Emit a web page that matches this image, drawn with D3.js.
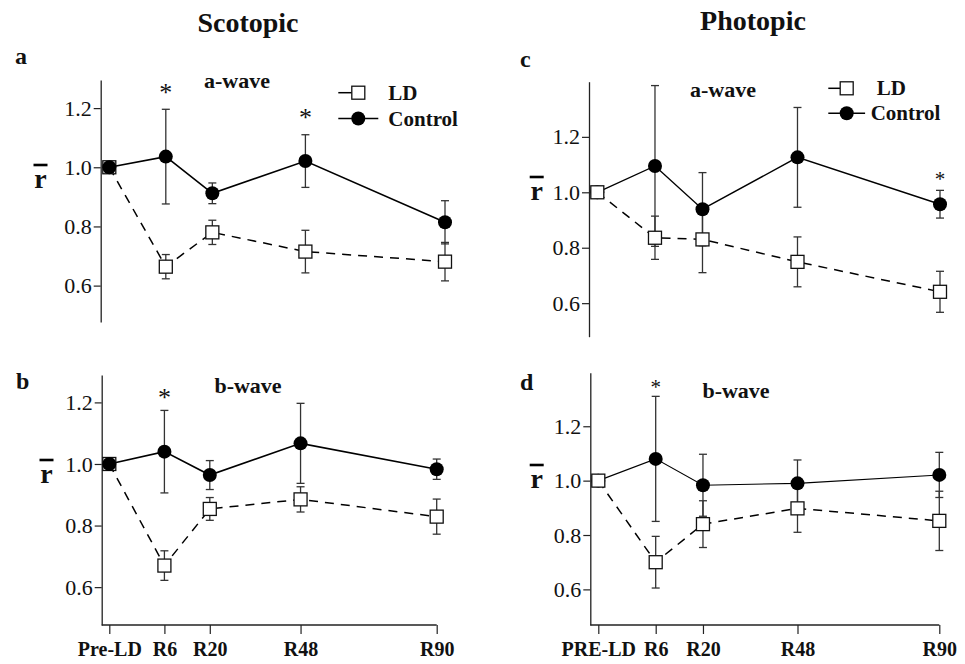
<!DOCTYPE html>
<html>
<head>
<meta charset="utf-8">
<script src="https://cdn.jsdelivr.net/npm/d3@7"></script>
<style>
  html, body { margin: 0; padding: 0; background: #fff; }
  svg { display: block; }
  text { font-family: "Liberation Serif", "Times New Roman", serif; fill: #111; }
</style>
</head>
<body>
<svg id="chart" width="965" height="664"></svg>
<script>
// ---------- DATA ----------
const timePoints = [-11, 6, 20, 48, 90];
const timeLabelsScotopic = ["Pre-LD", "R6", "R20", "R48", "R90"];
const timeLabelsPhotopic = ["PRE-LD", "R6", "R20", "R48", "R90"];
const yTickValues = [0.6, 0.8, 1.0, 1.2];
const seriesNames = ["LD", "Control"];

const scotA_control    = [1.0, 1.036, 0.912, 1.021, 0.814];
const scotA_controlErr = [0, 0.160, 0.035, 0.089, 0.073];
const scotA_LD         = [1.0, 0.664, 0.780, 0.715, 0.681];
const scotA_LDErr      = [0, 0.041, 0.041, 0.072, 0.065];
const scotA_sig        = [[6, 1.267], [48, 1.182]];

const scotB_control    = [1.0, 1.040, 0.964, 1.067, 0.983];
const scotB_controlErr = [0, 0.134, 0.047, 0.130, 0.033];
const scotB_LD         = [1.0, 0.670, 0.854, 0.885, 0.829];
const scotB_LDErr      = [0, 0.048, 0.037, 0.041, 0.057];
const scotB_sig        = [[6, 1.231]];

const photC_control    = [1.0, 1.095, 0.939, 1.126, 0.957];
const photC_controlErr = [0, 0.290, 0.132, 0.180, 0.050];
const photC_LD         = [1.0, 0.836, 0.830, 0.749, 0.641];
const photC_LDErr      = [0, 0.078, 0.120, 0.090, 0.074];
const photC_sig        = [[90, 1.059]];

const photD_control    = [1.0, 1.080, 0.983, 0.990, 1.021];
const photD_controlErr = [0, 0.230, 0.114, 0.086, 0.083];
const photD_LD         = [1.0, 0.700, 0.840, 0.898, 0.852];
const photD_LDErr      = [0, 0.095, 0.086, 0.088, 0.109];
const photD_sig        = [[6, 1.358]];

// ---------- LAYOUT ----------
const svg = d3.select("#chart");
const FONT = "Liberation Serif, Times New Roman, serif";

const panels = [
  { letter: "a", wave: "a-wave", control: scotA_control, controlErr: scotA_controlErr, ld: scotA_LD, ldErr: scotA_LDErr, sig: scotA_sig,
    axisX: 100.7, x0: 109.3, x1: 445, top: 80, bottom: 322, yDomain: [0.477, 1.295],
    xAxis: false, labels: timeLabelsScotopic, circleOnTop: true,
    letterPos: [15, 64], wavePos: [237, 88.3], rPos: [40.5, 188.3, 165],
    legend: { x: 338.3, mx: 358.3, tx: 388.3, y1: 92.7, y2: 118.5, tx2: 388.3 },
    sigSize: 26, lineW: 1.6 },
  { letter: "b", wave: "b-wave", control: scotB_control, controlErr: scotB_controlErr, ld: scotB_LD, ldErr: scotB_LDErr, sig: scotB_sig,
    axisX: 101.7, x0: 109.3, x1: 436.7, top: 375, bottom: 625, yDomain: [0.477, 1.289],
    xAxis: true, labels: timeLabelsScotopic, circleOnTop: true,
    letterPos: [16, 389.3], wavePos: [248, 393.3], rPos: [46.5, 483, 460],
    legend: null, sigSize: 26, lineW: 1.6 },
  { letter: "c", wave: "a-wave", control: photC_control, controlErr: photC_controlErr, ld: photC_LD, ldErr: photC_LDErr, sig: photC_sig,
    axisX: 589, x0: 597.3, x1: 940, top: 81.7, bottom: 336.7, yDomain: [0.479, 1.399],
    xAxis: false, labels: timeLabelsPhotopic, circleOnTop: false,
    letterPos: [520, 66.7], wavePos: [723, 96.7], rPos: [536.7, 200, 177],
    legend: { x: 828.3, mx: 846.7, tx: 876.7, y1: 88.3, y2: 113.3, tx2: 870.7 },
    sigSize: 21, lineW: 1.4 },
  { letter: "d", wave: "b-wave", control: photD_control, controlErr: photD_controlErr, ld: photD_LD, ldErr: photD_LDErr, sig: photD_sig,
    axisX: 590.3, x0: 598.3, x1: 939.3, top: 372.7, bottom: 625, yDomain: [0.469, 1.397],
    xAxis: true, labels: timeLabelsPhotopic, circleOnTop: false,
    letterPos: [520, 390], wavePos: [736, 398.3], rPos: [536.7, 488, 465],
    legend: null, sigSize: 21, lineW: 1.1 }
];

// Titles
svg.append("text").attr("x", 248).attr("y", 32).attr("text-anchor", "middle")
  .attr("font-family", FONT).attr("font-size", 28).attr("font-weight", "bold").text("Scotopic");
svg.append("text").attr("x", 753).attr("y", 29.5).attr("text-anchor", "middle")
  .attr("font-family", FONT).attr("font-size", 28).attr("font-weight", "bold").text("Photopic");

const SQ = 13, CR = 7;

panels.forEach(p => {
  const g = svg.append("g").attr("font-family", FONT);
  const x = d3.scaleLinear().domain([timePoints[0], timePoints[timePoints.length - 1]]).range([p.x0, p.x1]);
  const y = d3.scaleLinear().domain(p.yDomain).range([p.bottom, p.top]);

  // Y axis
  const yAxis = d3.axisLeft(y).tickValues(yTickValues).tickFormat(d3.format(".1f"))
    .tickSize(7).tickSizeOuter(0).tickPadding(2);
  const ya = g.append("g").attr("transform", `translate(${p.axisX},0)`).call(yAxis)
    .attr("font-family", FONT).attr("font-size", 22);
  ya.select(".domain").attr("stroke", "#222").attr("stroke-width", 1.3);
  ya.selectAll(".tick line").attr("stroke", "#222").attr("stroke-width", 1.2);
  ya.selectAll(".tick text").attr("font-family", FONT).attr("font-size", 22).attr("fill", "#111");

  // X axis
  if (p.xAxis) {
    const xAxis = d3.axisBottom(x).tickValues(timePoints)
      .tickFormat((d, i) => p.labels[i]).tickSize(9).tickSizeOuter(0).tickPadding(8);
    const xa = g.append("g").attr("transform", `translate(0,${p.bottom})`).call(xAxis)
      .attr("font-family", FONT).attr("font-size", 20).attr("font-weight", "bold");
    xa.select(".domain").remove();
    xa.append("line").attr("x1", p.axisX).attr("x2", x(timePoints[timePoints.length - 1]))
      .attr("y1", 0).attr("y2", 0).attr("stroke", "#222").attr("stroke-width", 1.3);
    xa.selectAll(".tick line").attr("stroke", "#222").attr("stroke-width", 1.2);
    xa.selectAll(".tick text").attr("font-family", FONT).attr("font-size", 20)
      .attr("font-weight", "bold").attr("fill", "#111");
  }

  const ctrl = timePoints.map((t, i) => ({ t, v: p.control[i], e: p.controlErr[i] }));
  const ld = timePoints.map((t, i) => ({ t, v: p.ld[i], e: p.ldErr[i] }));

  // Error bars
  const drawErr = (data) => {
    const eg = g.append("g").attr("stroke", "#333").attr("stroke-width", 1.3).attr("fill", "none");
    data.filter(d => d.e > 0).forEach(d => {
      const cx = x(d.t), yt = y(d.v + d.e), yb = y(d.v - d.e);
      eg.append("line").attr("x1", cx).attr("x2", cx).attr("y1", yt).attr("y2", yb);
      eg.append("line").attr("x1", cx - 4).attr("x2", cx + 4).attr("y1", yt).attr("y2", yt);
      eg.append("line").attr("x1", cx - 4).attr("x2", cx + 4).attr("y1", yb).attr("y2", yb);
    });
  };
  drawErr(ctrl);
  drawErr(ld);

  const line = d3.line().x(d => x(d.t)).y(d => y(d.v));
  g.append("path").datum(ctrl).attr("d", line).attr("fill", "none")
    .attr("stroke", "#000").attr("stroke-width", p.lineW);
  g.append("path").datum(ld).attr("d", line).attr("fill", "none")
    .attr("stroke", "#000").attr("stroke-width", 1.5).attr("stroke-dasharray", "9,7");

  const drawCircles = () => g.append("g").selectAll("circle").data(ctrl).join("circle")
    .attr("cx", d => x(d.t)).attr("cy", d => y(d.v)).attr("r", CR).attr("fill", "#000");
  const drawSquares = () => g.append("g").selectAll("rect").data(ld).join("rect")
    .attr("x", d => x(d.t) - SQ / 2).attr("y", d => y(d.v) - SQ / 2)
    .attr("width", SQ).attr("height", SQ).attr("fill", "#fff").attr("stroke", "#111").attr("stroke-width", 1.3);
  if (p.circleOnTop) { drawSquares(); drawCircles(); } else { drawCircles(); drawSquares(); }

  // Significance asterisks
  p.sig.forEach(([t, v]) => {
    g.append("text").attr("x", x(t)).attr("y", y(v) + 0.5 * p.sigSize).attr("text-anchor", "middle")
      .attr("font-size", p.sigSize).text("*");
  });

  // Panel letter, wave label
  g.append("text").attr("x", p.letterPos[0]).attr("y", p.letterPos[1])
    .attr("font-size", 24).attr("font-weight", "bold").text(p.letter);
  g.append("text").attr("x", p.wavePos[0]).attr("y", p.wavePos[1]).attr("text-anchor", "middle")
    .attr("font-size", 22).attr("font-weight", "bold").text(p.wave);

  // y label r-bar
  g.append("text").attr("x", p.rPos[0]).attr("y", p.rPos[1]).attr("text-anchor", "middle")
    .attr("font-size", 28).attr("font-weight", "bold").text("r");
  g.append("line").attr("x1", p.rPos[0] - 7).attr("x2", p.rPos[0] + 7)
    .attr("y1", p.rPos[2]).attr("y2", p.rPos[2]).attr("stroke", "#000").attr("stroke-width", 2.6);

  // Legend
  if (p.legend) {
    const L = p.legend;
    g.append("line").attr("x1", L.x).attr("x2", L.mx - SQ / 2).attr("y1", L.y1).attr("y2", L.y1)
      .attr("stroke", "#000").attr("stroke-width", 1.5);
    g.append("rect").attr("x", L.mx - SQ / 2).attr("y", L.y1 - SQ / 2).attr("width", SQ).attr("height", SQ)
      .attr("fill", "#fff").attr("stroke", "#111").attr("stroke-width", 1.3);
    g.append("text").attr("x", L.tx).attr("y", L.y1 + 7).attr("font-size", 21)
      .attr("font-weight", "bold").text(seriesNames[0]);
    g.append("line").attr("x1", L.x).attr("x2", 2 * L.mx - L.x).attr("y1", L.y2).attr("y2", L.y2)
      .attr("stroke", "#000").attr("stroke-width", 1.5);
    g.append("circle").attr("cx", L.mx).attr("cy", L.y2).attr("r", CR).attr("fill", "#000");
    g.append("text").attr("x", L.tx2).attr("y", L.y2 + 7).attr("font-size", 21)
      .attr("font-weight", "bold").text(seriesNames[1]);
  }
});
</script>
</body>
</html>
